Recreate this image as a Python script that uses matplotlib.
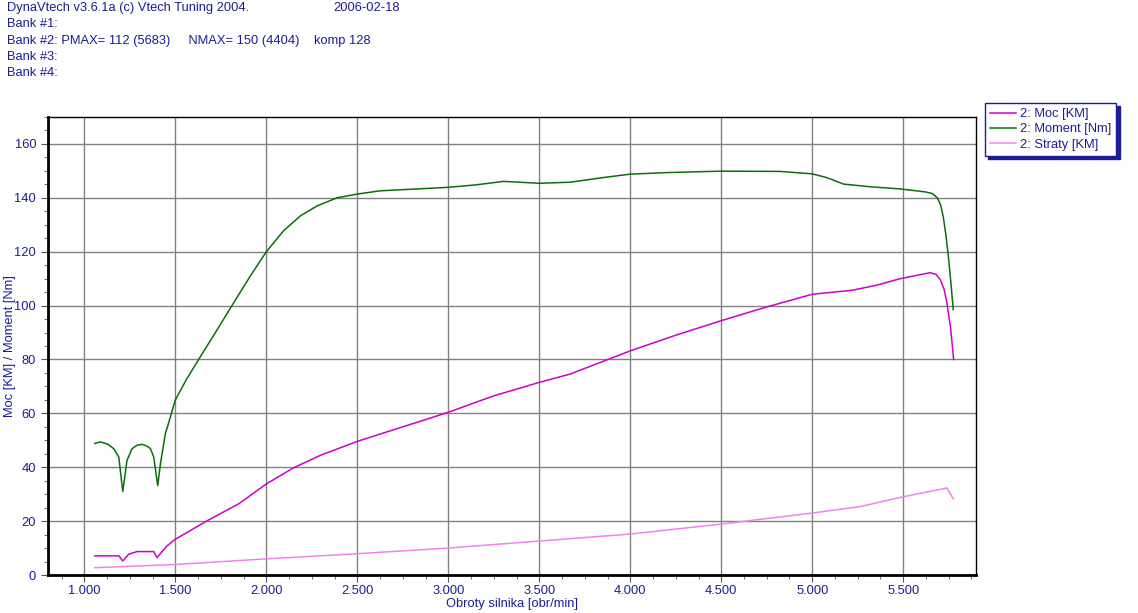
import matplotlib
matplotlib.use("Agg")
import matplotlib.pyplot as plt
from matplotlib.ticker import MultipleLocator, FuncFormatter

# Readings from the dyno sheet (rpm -> value)
moment_rpm = [1057, 1088, 1130, 1161, 1189, 1211, 1234, 1262, 1290, 1317, 1345, 1363, 1381,
              1403, 1418, 1445, 1454, 1500, 1560, 1628, 1720, 1811, 1912, 2000, 2095,
              2187, 2279, 2388, 2500, 2626, 3000, 3150, 3304, 3500, 3670, 3850, 4000,
              4220, 4500, 4824, 5000, 5080, 5172, 5319, 5484, 5621, 5660, 5687, 5705,
              5720, 5735, 5747, 5760, 5775]
moment_nm = [48.8, 49.4, 48.5, 46.9, 43.8, 31.0, 42.5, 46.9, 48.2, 48.5, 47.8, 46.9, 43.8,
             33.2, 41.3, 52.5, 54.4, 65.0, 72.5, 80.0, 90.0, 100.0, 111.0, 120.0, 127.8,
             133.3, 137.0, 140.0, 141.4, 142.6, 143.9, 144.8, 146.1, 145.4, 145.8, 147.5, 148.8,
             149.4, 149.9, 149.8, 148.9, 147.5, 145.1, 144.1, 143.3, 142.2, 141.6, 140.0, 137.5,
             133.0, 126.0, 119.0, 110.0, 98.5]

moc_rpm = [1057, 1189, 1211, 1243, 1290, 1381, 1399, 1454, 1500, 1674, 1850, 2000, 2150,
           2300, 2500, 2750, 3000, 3250, 3500, 3670, 4000, 4250, 4500, 4750, 5000, 5220,
           5350, 5484, 5648, 5680, 5703, 5725, 5740, 5760, 5777]
moc_km = [7.1, 7.1, 5.2, 7.7, 8.7, 8.7, 6.5, 10.8, 13.3, 20.1, 26.5, 33.8, 39.8,
          44.5, 49.6, 55.0, 60.4, 66.5, 71.5, 74.6, 83.2, 89.0, 94.4, 99.5, 104.2, 105.7,
          107.5, 110.0, 112.2, 111.6, 109.7, 106.0, 101.0, 92.0, 80.0]

straty_rpm = [1057, 1500, 2000, 2500, 3000, 3500, 4000, 4500, 5000, 5264, 5484, 5740, 5775]
straty_km = [2.7, 3.9, 6.0, 7.9, 10.0, 12.6, 15.2, 18.9, 23.0, 25.4, 28.8, 32.3, 28.3]

header_lines = ["DynaVtech v3.6.1a (c) Vtech Tuning 2004.",
                "Bank #1:",
                "Bank #2: PMAX= 112 (5683)     NMAX= 150 (4404)    komp 128",
                "Bank #3:",
                "Bank #4:"]
date_text = "2006-02-18"

navy = "#1c1c96"
plt.rcParams["font.family"] = ["Liberation Sans", "DejaVu Sans"]
plt.rcParams["font.size"] = 9.3

fig = plt.figure(figsize=(11.38, 6.13), dpi=100)
ax = fig.add_axes([48 / 1138, 1 - 575 / 613, (976 - 48) / 1138, (575 - 117) / 613])

ax.plot(moc_rpm, moc_km, color="#cc00cc", lw=1.1, label="2: Moc [KM]")
ax.plot(moment_rpm, moment_nm, color="#0a6e0a", lw=1.1, label="2: Moment [Nm]")
ax.plot(straty_rpm, straty_km, color="#ee82ee", lw=1.1, label="2: Straty [KM]")

ax.set_xlim(800, 5900)
ax.set_ylim(0, 170)
ax.xaxis.set_major_locator(MultipleLocator(500))
ax.xaxis.set_minor_locator(MultipleLocator(125))
ax.yaxis.set_major_locator(MultipleLocator(20))
ax.yaxis.set_minor_locator(MultipleLocator(5))
ax.xaxis.set_major_formatter(FuncFormatter(lambda v, p: f"{int(v):,}".replace(",", ".")))
ax.grid(True, which="major", color="#808080", lw=1)
ax.set_axisbelow(True)
ax.tick_params(which="both", direction="out", colors="#555555", labelcolor=navy)
ax.tick_params(which="major", length=5)
ax.tick_params(which="minor", length=3)
ax.tick_params(axis="x", which="major", pad=2)
for s in ["left", "bottom"]:
    ax.spines[s].set_linewidth(2)
for s in ["top", "right"]:
    ax.spines[s].set_linewidth(1)

ax.set_xlabel("Obroty silnika [obr/min]", color=navy)
ax.set_ylabel("Moc [KM] / Moment [Nm]", color=navy)
ax.xaxis.set_label_coords(0.5, -0.051)
ax.yaxis.set_label_coords(-0.034, 0.5)

for i, line in enumerate(header_lines):
    fig.text(7 / 1138, 1 - (8 + 16.3 * i) / 613, line, color=navy, va="center")
fig.text(333 / 1138, 1 - 8 / 613, date_text, color=navy, va="center")

leg = ax.legend(loc="upper left", bbox_to_anchor=(985 / 1138, 1 - 103 / 613),
                bbox_transform=fig.transFigure, fancybox=False,
                shadow={"color": navy, "alpha": 1.0, "ox": 2.5, "oy": -2.5},
                edgecolor=navy, framealpha=1, handlelength=2.0, handletextpad=0.3,
                borderpad=0.4, labelspacing=0.25, borderaxespad=0)
for t in leg.get_texts():
    t.set_color(navy)
leg.get_frame().set_linewidth(1)

fig.savefig("out.png", dpi=100)
